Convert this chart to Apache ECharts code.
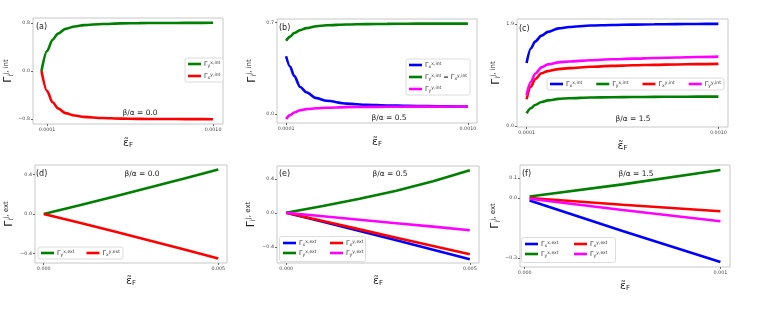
<!DOCTYPE html>
<html><head><meta charset="utf-8">
<script src="https://cdn.jsdelivr.net/npm/echarts@6/dist/echarts.min.js"></script>
<style>html,body{margin:0;padding:0;background:#fff}#c{width:778px;height:313px}</style>
</head><body><div id="c"></div>
<script>
// ---------- DATA ----------
// (a) beta/alpha = 0.0, intrinsic
const xA = [0.00007, 0.0001, 0.00013, 0.00016, 0.0002, 0.00025, 0.0003, 0.0004, 0.0005, 0.0006, 0.0007, 0.0008, 0.0009, 0.001];
const gA = [0.00, 0.33, 0.52, 0.62, 0.70, 0.74, 0.762, 0.78, 0.79, 0.795, 0.797, 0.798, 0.799, 0.80];
const rA = [0.00, -0.33, -0.52, -0.62, -0.70, -0.74, -0.762, -0.78, -0.79, -0.795, -0.797, -0.798, -0.799, -0.80];
// (b) beta/alpha = 0.5, intrinsic
const xB = [0.0001, 0.00012, 0.00014, 0.00017, 0.0002, 0.00025, 0.0003, 0.0004, 0.0005, 0.0006, 0.0007, 0.0008, 0.0009, 0.001];
const bB = [0.44, 0.36, 0.29, 0.205, 0.165, 0.12, 0.10, 0.078, 0.069, 0.064, 0.061, 0.059, 0.057, 0.056];
const gB = [0.558, 0.59, 0.618, 0.64, 0.655, 0.67, 0.677, 0.683, 0.686, 0.688, 0.689, 0.69, 0.69, 0.69];
const mB = [-0.04, -0.01, 0.01, 0.028, 0.036, 0.043, 0.047, 0.051, 0.053, 0.054, 0.055, 0.055, 0.056, 0.056];
// (c) beta/alpha = 1.5, intrinsic
const xC = [0.0001, 0.00012, 0.00014, 0.00017, 0.0002, 0.00025, 0.0003, 0.0004, 0.0005, 0.0006, 0.0007, 0.0008, 0.0009, 0.001];
const bC = [1.17, 1.44, 1.57, 1.68, 1.75, 1.815, 1.84, 1.868, 1.878, 1.886, 1.891, 1.895, 1.898, 1.90];
const gC = [0.236, 0.33, 0.39, 0.445, 0.475, 0.503, 0.515, 0.528, 0.534, 0.538, 0.541, 0.543, 0.545, 0.546];
const rC = [0.497, 0.73, 0.87, 0.98, 1.02, 1.058, 1.075, 1.10, 1.118, 1.128, 1.137, 1.144, 1.15, 1.155];
const mC = [0.577, 0.82, 0.97, 1.09, 1.145, 1.183, 1.20, 1.222, 1.24, 1.252, 1.263, 1.273, 1.282, 1.29];
// (d) beta/alpha = 0.0, extrinsic
const xD = [0, 0.001, 0.002, 0.003, 0.004, 0.005];
const gD = [0, 0.085, 0.175, 0.265, 0.355, 0.45];
const rD = [0, -0.085, -0.175, -0.265, -0.355, -0.45];
// (e) beta/alpha = 0.5, extrinsic
const xE = [0, 0.001, 0.002, 0.003, 0.004, 0.005];
const bE = [0, -0.105, -0.213, -0.322, -0.433, -0.545];
const gE = [0, 0.08, 0.165, 0.26, 0.37, 0.50];
const rE = [0, -0.097, -0.195, -0.292, -0.39, -0.487];
const mE = [0, -0.04, -0.081, -0.122, -0.163, -0.205];
// (f) beta/alpha = 1.5, extrinsic
const xF = [0.000025, 0.0005, 0.001];
const bF = [-0.012, -0.165, -0.32];
const gF = [0.0075, 0.068, 0.14];
const rF = [0.0, -0.034, -0.066];
const mF = [-0.004, -0.06, -0.116];

// tick values and labels
const xTicksInt = [0.0001, 0.001];
const xTicksIntLabels = ['0.0001', '0.0010'];
const xTicksDE = [0, 0.005];
const xTicksDELabels = ['0.000', '0.005'];
const xTicksF = [0, 0.001];
const xTicksFLabels = ['0.000', '0.001'];
const yTicksA = [-0.8, 0, 0.8];
const yTicksALabels = ['\u22120.8', '0.0', '0.8'];
const yTicksB = [0, 0.7];
const yTicksBLabels = ['0.0', '0.7'];
const yTicksC = [0, 1.9];
const yTicksCLabels = ['0.0', '1.9'];
const yTicksDE = [-0.4, 0, 0.4];
const yTicksDELabels = ['\u22120.4', '0.0', '0.4'];
const yTicksF = [-0.3, 0, 0.1];
const yTicksFLabels = ['\u22120.3', '0.0', '0.1'];

const panelLetters = ['(a)', '(b)', '(c)', '(d)', '(e)', '(f)'];
const ratioLabels = ['\u03b2/\u03b1 = 0.0', '\u03b2/\u03b1 = 0.5', '\u03b2/\u03b1 = 1.5', '\u03b2/\u03b1 = 0.0', '\u03b2/\u03b1 = 0.5', '\u03b2/\u03b1 = 1.5'];

// ---------- STYLE / LAYOUT ----------
const FONT = 'DejaVu Sans';
const C = {b: '#0000ff', g: '#008000', r: '#ff0000', m: '#ff00ff'};
const boxes = [[33,18,190,106],[277,19,200,104],[517,19,211,108],[35,165,192,98],[277,166,202,97],[520,165,210,102]];
const xr = [[0.000024,0.001054],[0.000055,0.001045],[0.000055,0.001045],[-0.00025,0.00525],[-0.00025,0.00525],[-0.000024,0.001049]];
const yr = [[-0.88,0.88],[-0.07,0.725],[-0.02,1.99],[-0.495,0.495],[-0.59,0.55],[-0.345,0.165]];
const xt = [[xTicksInt,xTicksIntLabels],[xTicksInt,xTicksIntLabels],[xTicksInt,xTicksIntLabels],[xTicksDE,xTicksDELabels],[xTicksDE,xTicksDELabels],[xTicksF,xTicksFLabels]];
const yt = [[yTicksA,yTicksALabels],[yTicksB,yTicksBLabels],[yTicksC,yTicksCLabels],[yTicksDE,yTicksDELabels],[yTicksDE,yTicksDELabels],[yTicksF,yTicksFLabels]];
const yGap = [18, 19, 15, 20, 20, 16];
const xGap = [13, 13, 13, 12, 12, 13];

function lab(ticks, labels){
  return function(v){
    let best = 0, d = Infinity;
    ticks.forEach((t,i)=>{ if (Math.abs(t-v) < d){ d = Math.abs(t-v); best = i; } });
    return labels[best];
  };
}

const nameRich = {
  g: {fontSize: 11, fontFamily: FONT, color: '#222'},
  sb: {fontSize: 7, fontFamily: FONT, color: '#222', verticalAlign: 'bottom', padding: [5,0,0,0]},
  sp: {fontSize: 7, fontFamily: FONT, color: '#222', verticalAlign: 'top', padding: [0,0,5,0]}
};
const legRich = {
  g: {fontSize: 6.5, fontFamily: FONT, color: '#333'},
  sb: {fontSize: 4.5, fontFamily: FONT, color: '#333', verticalAlign: 'bottom', padding: [3,0,0,0]},
  sp: {fontSize: 4.5, fontFamily: FONT, color: '#333', verticalAlign: 'top', padding: [0,0,3,0]}
};

const grids = [], xAxes = [], yAxes = [];
boxes.forEach((b,i)=>{
  grids.push({left: b[0], top: b[1], width: b[2], height: b[3], show: true, borderColor: '#c8c8c8', borderWidth: 1, containLabel: false});
  xAxes.push({
    type: 'value', gridIndex: i, min: xr[i][0], max: xr[i][1], position: 'bottom',
    splitLine: {show: false}, axisLine: {show: false, onZero: false},
    axisTick: {show: true, length: 2, lineStyle: {color: '#666'}, customValues: xt[i][0]},
    axisLabel: {show: true, fontSize: 4.8, color: '#444', fontFamily: FONT, margin: 3, customValues: xt[i][0], formatter: lab(xt[i][0], xt[i][1])},
    name: '{g|\u03b5\u0303}{sb|F}', nameLocation: 'middle', nameGap: xGap[i],
    nameTextStyle: {rich: nameRich}
  });
  yAxes.push({
    type: 'value', gridIndex: i, min: yr[i][0], max: yr[i][1], position: 'left',
    splitLine: {show: false}, axisLine: {show: false, onZero: false},
    axisTick: {show: true, length: 2, lineStyle: {color: '#666'}, customValues: yt[i][0]},
    axisLabel: {show: true, fontSize: 4.8, color: '#444', fontFamily: FONT, margin: 3, customValues: yt[i][0], formatter: lab(yt[i][0], yt[i][1])},
    name: i < 3 ? '{g|\u0393}{sb|i}{sp|j, int}' : '{g|\u0393}{sb|i}{sp|j, ext}',
    nameLocation: 'middle', nameGap: yGap[i], nameRotate: 90,
    nameTextStyle: {rich: nameRich}
  });
});

const series = [];
function add(id, gi, xs, ys, color, smooth){
  series.push({
    name: id, type: 'line', xAxisIndex: gi, yAxisIndex: gi,
    data: xs.map((x,k)=>[x, ys[k]]), showSymbol: false, symbol: 'none',
    smooth: smooth ? 0.3 : false, smoothMonotone: smooth ? 'x' : undefined,
    lineStyle: {width: 2.6, color: color}, itemStyle: {color: color},
    emphasis: {disabled: true}
  });
}
add('a1', 0, xA, gA, C.g, true); add('a2', 0, xA, rA, C.r, true);
add('b1', 1, xB, bB, C.b, true); add('b2', 1, xB, gB, C.g, true); add('b3', 1, xB, mB, C.m, true);
add('c1', 2, xC, bC, C.b, true); add('c2', 2, xC, gC, C.g, true); add('c3', 2, xC, rC, C.r, true); add('c4', 2, xC, mC, C.m, true);
add('d1', 3, xD, gD, C.g, false); add('d2', 3, xD, rD, C.r, false);
add('e1', 4, xE, bE, C.b, false); add('e2', 4, xE, gE, C.g, false); add('e3', 4, xE, rE, C.r, false); add('e4', 4, xE, mE, C.m, false);
add('f1', 5, xF, bF, C.b, false); add('f2', 5, xF, gF, C.g, false); add('f3', 5, xF, rF, C.r, false); add('f4', 5, xF, mF, C.m, false);

const legendText = {
  a1: '{g|\u0393}{sb|y}{sp|x,int}', a2: '{g|\u0393}{sb|x}{sp|y,int}',
  b1: '{g|\u0393}{sb|x}{sp|x,int}', b2: '{g|\u0393}{sb|y}{sp|x,int}{g| = \u0393}{sb|x}{sp|y,int}', b3: '{g|\u0393}{sb|y}{sp|y,int}',
  c1: '{g|\u0393}{sb|x}{sp|x,int}', c2: '{g|\u0393}{sb|y}{sp|x,int}', c3: '{g|\u0393}{sb|x}{sp|y,int}', c4: '{g|\u0393}{sb|y}{sp|y,int}',
  d1: '{g|\u0393}{sb|y}{sp|x,ext}', d2: '{g|\u0393}{sb|x}{sp|y,ext}',
  e1: '{g|\u0393}{sb|x}{sp|x,ext}', e3: '{g|\u0393}{sb|x}{sp|y,ext}', e2: '{g|\u0393}{sb|y}{sp|x,ext}', e4: '{g|\u0393}{sb|y}{sp|y,ext}',
  f1: '{g|\u0393}{sb|x}{sp|x,ext}', f3: '{g|\u0393}{sb|x}{sp|y,ext}', f2: '{g|\u0393}{sb|y}{sp|x,ext}', f4: '{g|\u0393}{sb|y}{sp|y,ext}'
};
function legend(opts){
  return Object.assign({
    icon: 'rect', itemWidth: 13, itemHeight: 2.6, itemGap: 3,
    padding: [2,3,2,3], borderColor: '#dcdcdc', borderWidth: 1, borderRadius: 2,
    backgroundColor: '#fff', selectedMode: false,
    textStyle: {fontSize: 6.5, rich: legRich, padding: [0,0,0,-2]},
    formatter: n => legendText[n]
  }, opts);
}
const noBox = {borderWidth: 0, backgroundColor: 'transparent'};
const legends = [
  legend({left: 185, top: 58, orient: 'vertical', itemGap: 4, data: ['a1','a2']}),
  legend({left: 406, top: 59, orient: 'vertical', itemGap: 4, data: ['b1','b2','b3']}),
  legend({left: 547, top: 78, orient: 'horizontal', itemGap: 14, data: ['c1','c2','c3','c4']}),
  legend({left: 38, top: 247, orient: 'horizontal', itemGap: 12, data: ['d1','d2']}),
  legend(Object.assign({left: 280, top: 237, orient: 'vertical', itemGap: 2, data: ['e1','e2']}, noBox)),
  legend(Object.assign({left: 327, top: 237, orient: 'vertical', itemGap: 2, data: ['e3','e4']}, noBox)),
  legend(Object.assign({left: 522, top: 238, orient: 'vertical', itemGap: 2, data: ['f1','f2']}, noBox)),
  legend(Object.assign({left: 571, top: 238, orient: 'vertical', itemGap: 2, data: ['f3','f4']}, noBox))
];

const letterPos = [[36,27],[279,28],[519,29],[36,174],[279,174],[522,174]];
const ratioPos = [[140,113],[389,118],[633,119],[142,174],[390,174],[636,174]];
const graphic = [
  {type:'rect', z: 3, shape:{x:279.5, y:236.5, width:86, height:25, r:2}, style:{fill:'#fff', stroke:'#dcdcdc', lineWidth:1}},
  {type:'rect', z: 3, shape:{x:521.5, y:237.5, width:94, height:25, r:2}, style:{fill:'#fff', stroke:'#dcdcdc', lineWidth:1}}
];
letterPos.forEach((p,i)=>graphic.push({type:'text', x:p[0], y:p[1], z: 10,
  style:{text: panelLetters[i], font: '8px "DejaVu Sans"', fill:'#222', verticalAlign:'middle', align:'left'}}));
ratioPos.forEach((p,i)=>graphic.push({type:'text', x:p[0], y:p[1], z: 10,
  style:{text: ratioLabels[i], font: '7.5px "DejaVu Sans"', fill:'#222', verticalAlign:'middle', align:'center'}}));

const chart = echarts.init(document.getElementById('c'), null, {renderer: 'canvas'});
chart.setOption({
  animation: false,
  backgroundColor: '#fff',
  textStyle: {fontFamily: FONT},
  grid: grids, xAxis: xAxes, yAxis: yAxes,
  legend: legends, series: series, graphic: graphic
});
</script></body></html>
